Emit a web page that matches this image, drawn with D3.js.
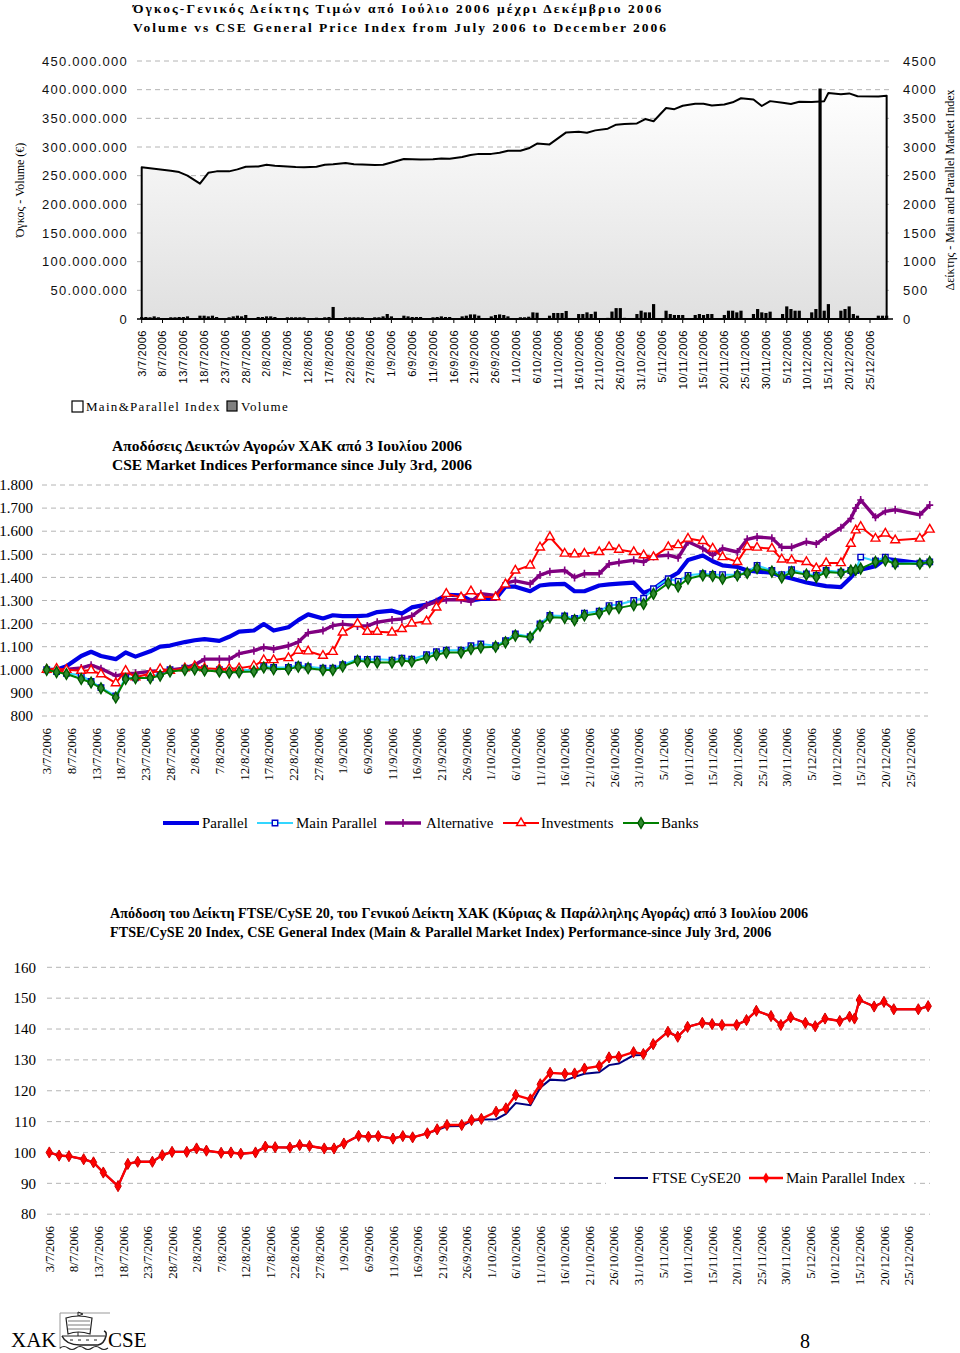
<!DOCTYPE html>
<html><head><meta charset="utf-8">
<script src="https://cdn.jsdelivr.net/npm/d3@7"></script>
<style>body{margin:0;background:#fff}svg{display:block}</style>
</head><body>
<svg id="c" width="960" height="1353"></svg>
<script>
// ---------------- DATA ----------------
const tickLabels = ["3/7/2006","8/7/2006","13/7/2006","18/7/2006","23/7/2006","28/7/2006","2/8/2006","7/8/2006","12/8/2006","17/8/2006","22/8/2006","27/8/2006","1/9/2006","6/9/2006","11/9/2006","16/9/2006","21/9/2006","26/9/2006","1/10/2006","6/10/2006","11/10/2006","16/10/2006","21/10/2006","26/10/2006","31/10/2006","5/11/2006","10/11/2006","15/11/2006","20/11/2006","25/11/2006","30/11/2006","5/12/2006","10/12/2006","15/12/2006","20/12/2006","25/12/2006"];

// trading days (volume bars)
const tradingDays = ["3/7","4/7","5/7","6/7","7/7","10/7","11/7","12/7","13/7","14/7","17/7","18/7","19/7","20/7","21/7","24/7","25/7","26/7","27/7","28/7","31/7",
"1/8","2/8","3/8","4/8","7/8","8/8","9/8","10/8","11/8","14/8","16/8","17/8","18/8","21/8","22/8","23/8","24/8","25/8","28/8","29/8","30/8","31/8",
"1/9","4/9","5/9","6/9","7/9","8/9","11/9","12/9","13/9","14/9","15/9","18/9","19/9","20/9","21/9","22/9","25/9","26/9","27/9","28/9","29/9",
"2/10","3/10","4/10","5/10","6/10","9/10","10/10","11/10","12/10","13/10","16/10","17/10","18/10","19/10","20/10","23/10","24/10","25/10","26/10","27/10","30/10","31/10",
"1/11","2/11","3/11","6/11","7/11","8/11","9/11","10/11","13/11","14/11","15/11","16/11","17/11","20/11","21/11","22/11","23/11","24/11","27/11","28/11","29/11","30/11",
"1/12","4/12","5/12","6/12","7/12","8/12","11/12","12/12","13/12","14/12","15/12","18/12","19/12","20/12","21/12","22/12","27/12","28/12","29/12"];
// volume in millions of euro
const volumeM = [3.5,3.5,3,4.6,3, 3,3,3.5,3.5,4.6, 5.8,5.8,4.6,5.8,3.5, 3,4.6,5.8,4.6,7, 3.5,
3.5,4.6,4.6,3.5, 3,3,3,3,3, 2.3,3,3.5,21, 3,3,3,3,3, 3,3,4.6,8.7,
4.6, 5.8,4.6,3.5,3.5,3.5, 3,3.5,4.6,3.5,3.5, 4.6,5.8,8,8,5.8, 4.6,7,8,7,4.6,
3,3,4,11.6,11, 5.8,10.5,10.5,10.5,14, 8.7,8.7,11.6,8.7,12.8, 2,13,19,19,2, 8.7,14.5,
11.6,11.6,26, 14.5,8.7,7,7,7, 7,8.7,7,8.7,8.7, 7,14.5,14.5,11.6,14.5, 8.7,17.4,11.6,10.5,
12.8, 8.7,22,17.4,14.5,14.5, 11.6,17.4,402,14.5,26, 14.5,17.4,22,8.7,5.8, 5.8,5.8,5.8];

// sampled dates for the index lines
const sampleDates = ["3/7","5/7","7/7","10/7","12/7","14/7","17/7","19/7","21/7","24/7","26/7","28/7","31/7",
"2/8","4/8","7/8","9/8","11/8","14/8","16/8","18/8","21/8","23/8","25/8","28/8","30/8",
"1/9","4/9","6/9","8/9","11/9","13/9","15/9","18/9","20/9","22/9","25/9","27/9","29/9",
"2/10","4/10","6/10","9/10","11/10","13/10","16/10","18/10","20/10","23/10","25/10","27/10","30/10",
"1/11","3/11","6/11","8/11","10/11","13/11","15/11","17/11","20/11","22/11","24/11","27/11","29/11",
"1/12","4/12","6/12","8/12","11/12","13/12","14/12","15/12","18/12","20/12","22/12","27/12","29/12"];

const mainParallelIndex = [2646,2630,2612,2585,2562,2500,2360,2550,2575,2575,2610,2655,2660,
2690,2675,2660,2650,2648,2655,2690,2700,2720,2700,2695,2685,2690,
2730,2790,2785,2780,2785,2800,2795,2825,2860,2880,2880,2900,2936,
2936,2977,3060,3045,3150,3255,3267,3250,3290,3320,3390,3400,3410,
3488,3450,3680,3660,3720,3756,3756,3725,3740,3780,3850,3830,3715,
3800,3770,3750,3790,3785,3795,3800,3942,3920,3935,3885,3880,3895];

const parallel = [1000,1000,1015,1060,1078,1060,1046,1075,1057,1080,1100,1105,1120,
1128,1133,1125,1143,1165,1170,1198,1170,1184,1215,1240,1222,1236,
1232,1232,1235,1250,1256,1244,1270,1282,1300,1325,1322,1300,1307,
1307,1360,1360,1340,1365,1370,1372,1340,1340,1365,1370,1373,1377,
1333,1350,1396,1420,1475,1495,1470,1452,1445,1430,1425,1420,1405,
1395,1378,1370,1362,1358,1400,1425,1433,1448,1480,1475,1462,1467];
const mainParallel = [1000,992,985,976,950,923,887,967,965,967,985,1000,1007,
1010,1005,1000,997,998,1000,1017,1010,1010,1020,1013,1007,1007,
1022,1046,1045,1046,1042,1050,1046,1065,1078,1085,1085,1104,1112,
1104,1126,1155,1143,1199,1235,1233,1222,1245,1254,1278,1283,1300,
1310,1351,1394,1383,1409,1416,1413,1412,1412,1423,1452,1430,1412,
1433,1415,1409,1430,1423,1430,1430,1488,1471,1488,1459,1462,1467];
const alternative = [1000,1000,1002,1008,1020,1005,974,983,985,993,996,999,1007,
1022,1046,1046,1046,1070,1083,1097,1090,1104,1120,1160,1170,1191,
1198,1190,1190,1206,1216,1220,1232,1280,1295,1303,1303,1295,1329,
1322,1375,1385,1372,1410,1425,1430,1400,1416,1416,1458,1465,1474,
1467,1491,1496,1485,1554,1525,1496,1525,1510,1565,1575,1570,1530,
1530,1554,1545,1575,1615,1655,1700,1735,1660,1686,1693,1671,1713];
const investments = [1000,1005,1000,996,998,981,942,996,968,984,1003,996,1007,
1015,1007,1003,1005,1007,1017,1042,1042,1051,1083,1080,1061,1078,
1162,1199,1165,1165,1162,1177,1201,1210,1270,1329,1314,1340,1316,
1314,1370,1430,1452,1530,1575,1503,1500,1503,1510,1532,1520,1510,
1496,1488,1532,1540,1568,1558,1525,1488,1467,1532,1529,1525,1478,
1474,1467,1440,1462,1462,1546,1604,1619,1568,1590,1561,1568,1607];
const banks = [1000,990,982,960,945,920,880,960,964,964,975,993,999,
1002,997,993,988,990,993,1010,1003,1003,1013,1007,999,999,
1015,1039,1035,1032,1032,1039,1036,1052,1065,1075,1075,1090,1097,
1100,1119,1148,1141,1191,1228,1225,1215,1235,1245,1264,1268,1280,
1285,1329,1375,1361,1394,1409,1406,1394,1409,1419,1440,1425,1400,
1423,1412,1401,1423,1419,1430,1432,1438,1467,1474,1459,1459,1467];

const ftseCySE20 = [100,99,98.8,97.8,96.8,93.5,89.1,96.3,97,97,99.1,100.2,100.2,
101.3,100.6,99.9,100,99.6,100,101.9,101.7,101.6,102.4,102.1,101.3,101.3,
102.9,105.4,105.1,105.3,104.5,105.3,104.9,106.2,107.3,108.5,108.6,110.2,110.7,
110.8,112.5,116,115.3,121,123.6,123.3,124.5,125.5,126,128.3,128.8,131.5,
131.6,135.1,139.1,137.5,140.7,142,141.6,141.3,141.3,142.9,145.9,144.2,141.3,
143.8,142,140.9,143.4,142.6,144,143.4,149.4,147.3,148.8,146.4,146.4,147.4];
const mainParallelPerf = [100,99,98.8,97.8,96.8,93.5,89.1,96.3,97,97,99.1,100.2,100.2,
101.3,100.6,99.9,100,99.6,100,101.9,101.7,101.6,102.4,102.1,101.3,101.3,
102.9,105.4,105.1,105.3,104.5,105.3,104.9,106.2,107.5,108.9,108.9,110.5,110.9,
113.2,114.3,118.6,117.2,122.1,125.8,125.5,125.6,127.2,128,130.8,131,132.5,
131.9,135.1,139.1,137.5,140.7,142,141.6,141.3,141.3,142.9,145.9,144.2,141.3,
143.8,142,140.9,143.4,142.6,144,143.4,149.4,147.3,148.8,146.4,146.4,147.4];

const volTicks = [0,50000000,100000000,150000000,200000000,250000000,300000000,350000000,400000000,450000000];
const idxTicks = [0,500,1000,1500,2000,2500,3000,3500,4000,4500];
const perfTicks = [800,900,1000,1100,1200,1300,1400,1500,1600,1700,1800];
const ftseTicks = [80,90,100,110,120,130,140,150,160];

// ---------------- SETUP ----------------
const svg = d3.select("#c");
const P = d3.timeParse("%d/%m/%Y");
const dt = s => P(s + "/2006");
const loc = d3.formatLocale({decimal:",", thousands:".", grouping:[3], currency:["","€"]});
const fmtDot = loc.format(",");
const SERIF = "'Liberation Serif','Times New Roman',serif";
const SANS = "'Liberation Sans',Arial,sans-serif";
const tickDates = tickLabels.map(P);
const sDates = sampleDates.map(dt);
const GRID = "#b4b4b4";

function rotLabels(g, xs, y0, font, size, spacing) {
  g.selectAll(null).data(tickDates).join("text")
    .attr("transform", (d) => `translate(${xs(d)},${y0}) rotate(-90)`)
    .attr("text-anchor", "end").attr("dy", "0.35em")
    .attr("font-family", font).attr("font-size", size)
    .attr("letter-spacing", spacing)
    .text((d, i) => tickLabels[i]);
}
function grid(g, vals, ys, x0, x1) {
  g.selectAll(null).data(vals).join("line")
    .attr("x1", x0).attr("x2", x1).attr("y1", d => ys(d)).attr("y2", d => ys(d))
    .attr("stroke", GRID).attr("stroke-width", 1).attr("stroke-dasharray", "5,4");
}

// ================= CHART 1 =================
const c1 = svg.append("g");
c1.append("text").attr("x", 133).attr("y", 13).attr("font-family", SERIF).attr("font-weight", "bold")
  .attr("font-size", 13.5).attr("letter-spacing", 2.1)
  .text("Όγκος-Γενικός Δείκτης Τιμών από Ιούλιο 2006 μέχρι Δεκέμβριο 2006");
c1.append("text").attr("x", 133).attr("y", 32).attr("font-family", SERIF).attr("font-weight", "bold")
  .attr("font-size", 13.5).attr("letter-spacing", 2.0)
  .text("Volume vs CSE General Price Index from July 2006 to December 2006");

const x1 = d3.scaleTime().domain([dt("3/7"), dt("25/12")]).range([141.7, 870]);
const yL = d3.scaleLinear().domain([0, 450000000]).range([319, 61]);
const yR = d3.scaleLinear().domain([0, 4500]).range([319, 61]);

grid(c1, volTicks.slice(1), yL, 137, 893);

const defs = svg.append("defs");
const grad = defs.append("linearGradient").attr("id", "ag").attr("gradientUnits", "userSpaceOnUse")
  .attr("x1", 0).attr("x2", 0).attr("y1", 85).attr("y2", 319);
grad.append("stop").attr("offset", 0).attr("stop-color", "#ffffff");
grad.append("stop").attr("offset", 1).attr("stop-color", "#e0e0e0");

const idxData = sDates.map((d, i) => ({ date: d, v: mainParallelIndex[i] }));
c1.append("path").datum(idxData)
  .attr("d", d3.area().x(d => x1(d.date)).y0(yR(0)).y1(d => yR(d.v)))
  .attr("fill", "url(#ag)").attr("stroke", "#000").attr("stroke-width", 2).attr("stroke-linejoin", "round");

const volData = tradingDays.map((d, i) => ({ date: dt(d), v: volumeM[i] * 1e6 }));
c1.selectAll(null).data(volData).join("rect")
  .attr("x", d => x1(d.date) - 1.6).attr("width", 3.2)
  .attr("y", d => yL(d.v)).attr("height", d => yL(0) - yL(d.v))
  .attr("fill", "#000");

c1.append("line").attr("x1", 137).attr("x2", 893).attr("y1", 319).attr("y2", 319)
  .attr("stroke", "#000").attr("stroke-width", 1.5);
c1.selectAll(null).data(tickDates).join("line")
  .attr("x1", d => x1(d)).attr("x2", d => x1(d)).attr("y1", 319).attr("y2", 323)
  .attr("stroke", "#000").attr("stroke-width", 1);
rotLabels(c1, x1, 330, SANS, 11, 0.5);

c1.selectAll(null).data(volTicks).join("text")
  .attr("x", 128).attr("y", d => yL(d)).attr("dy", "0.36em").attr("text-anchor", "end")
  .attr("font-family", SANS).attr("font-size", 13).attr("letter-spacing", 1.25).attr("fill", "#111")
  .text(d => fmtDot(d));
c1.selectAll(null).data(idxTicks).join("text")
  .attr("x", 903).attr("y", d => yR(d)).attr("dy", "0.36em")
  .attr("font-family", SANS).attr("font-size", 13).attr("letter-spacing", 1.25).attr("fill", "#111")
  .text(d => d);

c1.append("text").attr("transform", "translate(24,190) rotate(-90)").attr("text-anchor", "middle")
  .attr("font-family", SERIF).attr("font-size", 12).text("Όγκος - Volume (€)");
c1.append("text").attr("transform", "translate(954,190) rotate(-90)").attr("text-anchor", "middle")
  .attr("font-family", SERIF).attr("font-size", 12).text("Δείκτης - Main and Parallel Market Index");

c1.append("rect").attr("x", 72).attr("y", 401).attr("width", 11).attr("height", 11)
  .attr("fill", "#fff").attr("stroke", "#000").attr("stroke-width", 1.2);
c1.append("text").attr("x", 86).attr("y", 411).attr("font-family", SERIF).attr("font-size", 13)
  .attr("letter-spacing", 1.3).text("Main&Parallel Index");
c1.append("rect").attr("x", 227).attr("y", 401).attr("width", 10).attr("height", 10)
  .attr("fill", "#808080").attr("stroke", "#000").attr("stroke-width", 1.2);
c1.append("text").attr("x", 241).attr("y", 411).attr("font-family", SERIF).attr("font-size", 13)
  .attr("letter-spacing", 1.3).text("Volume");

// ================= CHART 2 =================
const c2 = svg.append("g");
c2.append("text").attr("x", 112).attr("y", 451).attr("font-family", SERIF).attr("font-weight", "bold")
  .attr("font-size", 15.5).text("Αποδόσεις Δεικτών Αγορών ΧΑΚ από 3  Ιουλίου 2006");
c2.append("text").attr("x", 112).attr("y", 470).attr("font-family", SERIF).attr("font-weight", "bold")
  .attr("font-size", 15.5).text("CSE Market Indices Performance since July 3rd, 2006");

const x2 = d3.scaleTime().domain([dt("3/7"), dt("25/12")]).range([46.7, 910]);
const y2 = d3.scaleLinear().domain([800, 1800]).range([716, 485]);
grid(c2, perfTicks, y2, 42, 928);
c2.selectAll(null).data(perfTicks).join("text")
  .attr("x", 33).attr("y", d => y2(d)).attr("dy", "0.35em").attr("text-anchor", "end")
  .attr("font-family", SERIF).attr("font-size", 15).text(d => fmtDot(d));
rotLabels(c2, x2, 728, SERIF, 13, 0);

const sym = {
  square: d3.symbol().type(d3.symbolSquare).size(30),
  tri: d3.symbol().type(d3.symbolTriangle).size(34),
  diamond: d3.symbol().type(d3.symbolDiamond).size(34),
};
const perfSeries = [
  { name: "Parallel", vals: parallel, color: "#0000e6", w: 4.2, marker: null },
  { name: "Main Parallel", vals: mainParallel, color: "#33d6ff", w: 2, marker: "square", mFill: "#e8ffff", mStroke: "#0000c8" },
  { name: "Alternative", vals: alternative, color: "#800080", w: 3.4, marker: "plus" },
  { name: "Investments", vals: investments, color: "#ff0000", w: 2, marker: "tri", mFill: "#fff", mStroke: "#ff0000" },
  { name: "Banks", vals: banks, color: "#008000", w: 2, marker: "diamond", mFill: "#2e8b2e", mStroke: "#005a00" },
];
function drawMarker(sel, s) {
  if (s.marker === "plus") {
    sel.append("path").attr("d", "M-3.5,0H3.5M0,-4V4").attr("stroke", s.color).attr("stroke-width", 1.6);
  } else if (s.marker) {
    sel.append("path").attr("d", sym[s.marker]()).attr("fill", s.mFill).attr("stroke", s.mStroke).attr("stroke-width", 1.4);
  }
}
perfSeries.forEach(s => {
  const data = sDates.map((d, i) => ({ date: d, v: s.vals[i] }));
  c2.append("path").datum(data)
    .attr("d", d3.line().x(d => x2(d.date)).y(d => y2(d.v)))
    .attr("fill", "none").attr("stroke", s.color).attr("stroke-width", s.w).attr("stroke-linejoin", "round");
  if (s.marker) {
    c2.selectAll(null).data(data).join("g")
      .attr("transform", d => `translate(${x2(d.date)},${y2(d.v)})`)
      .each(function () { drawMarker(d3.select(this), s); });
  }
});
// legend chart 2
const leg2 = [[163, 202], [257, 296], [385, 426], [503, 541], [623, 661]];
perfSeries.forEach((s, i) => {
  const [lx, tx] = leg2[i];
  c2.append("line").attr("x1", lx).attr("x2", lx + 36).attr("y1", 823).attr("y2", 823)
    .attr("stroke", s.color).attr("stroke-width", s.w);
  if (s.marker) drawMarker(c2.append("g").attr("transform", `translate(${lx + 18},823)`), s);
  c2.append("text").attr("x", tx).attr("y", 828).attr("font-family", SERIF).attr("font-size", 15).text(s.name);
});

// ================= CHART 3 =================
const c3 = svg.append("g");
c3.append("text").attr("x", 110).attr("y", 918).attr("font-family", SERIF).attr("font-weight", "bold")
  .attr("font-size", 14.2).text("Απόδοση του Δείκτη FTSE/CySE 20, του Γενικού Δείκτη ΧΑΚ (Κύριας & Παράλληλης Αγοράς) από 3 Ιουλίου 2006");
c3.append("text").attr("x", 110).attr("y", 937).attr("font-family", SERIF).attr("font-weight", "bold")
  .attr("font-size", 14.2).text("FTSE/CySE 20 Index, CSE General Index (Main & Parallel Market Index) Performance-since July 3rd, 2006");

const x3 = d3.scaleTime().domain([dt("3/7"), dt("25/12")]).range([49.3, 908.5]);
const y3 = d3.scaleLinear().domain([80, 160]).range([1214.2, 967.3]);
grid(c3, ftseTicks, y3, 47, 930);
c3.selectAll(null).data(ftseTicks).join("text")
  .attr("x", 36).attr("y", d => y3(d)).attr("dy", "0.35em").attr("text-anchor", "end")
  .attr("font-family", SERIF).attr("font-size", 15).text(d => d);
rotLabels(c3, x3, 1226, SERIF, 13, 0);

const ftseData = sDates.map((d, i) => ({ date: d, v: ftseCySE20[i] }));
const mpData = sDates.map((d, i) => ({ date: d, v: mainParallelPerf[i] }));
const line3 = d3.line().x(d => x3(d.date)).y(d => y3(d.v));
c3.append("path").datum(ftseData).attr("d", line3).attr("fill", "none")
  .attr("stroke", "#000080").attr("stroke-width", 2);
c3.append("path").datum(mpData).attr("d", line3).attr("fill", "none")
  .attr("stroke", "#ff0000").attr("stroke-width", 2.4).attr("stroke-linejoin", "round");
c3.selectAll(null).data(mpData).join("path")
  .attr("transform", d => `translate(${x3(d.date)},${y3(d.v)})`)
  .attr("d", d3.symbol().type(d3.symbolDiamond).size(36)).attr("fill", "#ff0000").attr("stroke", "#d00000");

// legend chart 3
c3.append("rect").attr("x", 606).attr("y", 1168).attr("width", 308).attr("height", 22).attr("fill", "#fff");
c3.append("line").attr("x1", 614).attr("x2", 648).attr("y1", 1178).attr("y2", 1178)
  .attr("stroke", "#000080").attr("stroke-width", 2);
c3.append("text").attr("x", 652).attr("y", 1183).attr("font-family", SERIF).attr("font-size", 15).text("FTSE CySE20");
c3.append("line").attr("x1", 749).attr("x2", 783).attr("y1", 1178).attr("y2", 1178)
  .attr("stroke", "#ff0000").attr("stroke-width", 2.4);
c3.append("path").attr("transform", "translate(766,1178)")
  .attr("d", d3.symbol().type(d3.symbolDiamond).size(36)).attr("fill", "#ff0000");
c3.append("text").attr("x", 786).attr("y", 1183).attr("font-family", SERIF).attr("font-size", 15).text("Main Parallel Index");

// ================= FOOTER =================
const ft = svg.append("g");
ft.append("text").attr("x", 11).attr("y", 1347).attr("font-family", SERIF).attr("font-size", 21).text("XAK");
ft.append("text").attr("x", 108).attr("y", 1347).attr("font-family", SERIF).attr("font-size", 21).text("CSE");
ft.append("text").attr("x", 800).attr("y", 1348).attr("font-family", SERIF).attr("font-size", 20).text("8");
const ship = ft.append("g").attr("fill", "none").attr("stroke", "#222").attr("stroke-width", 1);
ship.append("path").attr("d", "M60,1349V1313H110").attr("stroke", "#999");
ship.append("path").attr("d", "M78,1312V1336M78,1312L83,1314L78,1316");
ship.append("path").attr("d", "M66,1318Q78,1314 92,1318L90,1334Q78,1330 68,1334Z").attr("fill", "#fff").attr("stroke-width", 1.2);
ship.append("path").attr("d", "M68,1321H90M68,1325H90M68,1329H90").attr("stroke-width", 0.6);
ship.append("path").attr("d", "M62,1336Q66,1345 80,1345H98Q104,1344 106,1336Q107,1332 104,1331").attr("stroke-width", 1.5);
ship.append("path").attr("d", "M62,1336H105M70,1340h3M78,1340h3M86,1340h3M94,1340h3").attr("stroke-width", 1);
ship.append("path").attr("d", "M60,1348q4,-3 8,0t8,0t8,0t8,0t8,0t8,0").attr("stroke-width", 1.2);
</script>
</body></html>
